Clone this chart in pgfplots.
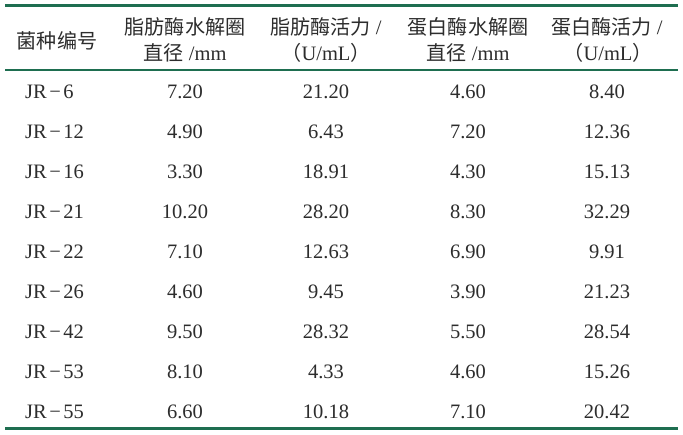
\documentclass[border=0pt]{standalone}
\usepackage{pgfplots}
\pgfplotsset{compat=1.18}
\usepackage{pgfplotstable}
\usepackage{fontspec}
\setmainfont{Liberation Serif}
\newfontfamily\cjk[Scale=0.98]{Noto Sans CJK SC}
\definecolor{rule}{RGB}{30,110,80}
\definecolor{txt}{RGB}{45,45,45}
\newcommand{\md}{\kern2.5pt−\kern2.5pt}
\pgfplotstableread{
y id a b c d
92 JR\md6 7.20 21.20 4.60 8.40
132 JR\md12 4.90 6.43 7.20 12.36
172 JR\md16 3.30 18.91 4.30 15.13
212 JR\md21 10.20 28.20 8.30 32.29
252 JR\md22 7.10 12.63 6.90 9.91
292 JR\md26 4.60 9.45 3.90 21.23
332 JR\md42 9.50 28.32 5.50 28.54
372 JR\md53 8.10 4.33 4.60 15.26
412 JR\md55 6.60 10.18 7.10 20.42
}\datatable
\begin{document}
\begin{tikzpicture}
\begin{axis}[
  scale only axis, width=683pt, height=435pt,
  xmin=0, xmax=683, ymin=0, ymax=435, y dir=reverse,
  hide axis, clip=false,
  axis background/.style={fill=white},
  every node near coord/.append style={anchor=center, text=txt, font=\fontsize{20.5}{24}\selectfont},
]
% rules
\addplot[draw=rule, line width=3pt] coordinates {(5,6) (678,6)};
\addplot[draw=rule, line width=2.2pt] coordinates {(5,70) (678,70)};
\addplot[draw=rule, line width=3pt] coordinates {(5,429) (678,429)};
% data
\addplot[draw=none, mark=none, nodes near coords, point meta=explicit symbolic,
  every node near coord/.append style={anchor=west, inner sep=0pt}]
  table[x expr=25, y=y, meta=id] {\datatable};
\addplot[draw=none, mark=none, nodes near coords, point meta=explicit symbolic]
  table[x expr=185, y=y, meta=a] {\datatable};
\addplot[draw=none, mark=none, nodes near coords, point meta=explicit symbolic]
  table[x expr=326, y=y, meta=b] {\datatable};
\addplot[draw=none, mark=none, nodes near coords, point meta=explicit symbolic]
  table[x expr=468, y=y, meta=c] {\datatable};
\addplot[draw=none, mark=none, nodes near coords, point meta=explicit symbolic]
  table[x expr=607, y=y, meta=d] {\datatable};
% headers
\begin{scope}[every node/.style={text=txt, inner sep=0pt, font=\fontsize{20.5}{24}\selectfont}]
\node at (axis cs:57,41) {\cjk 菌种编号};
\node at (axis cs:185,27) {\cjk 脂肪酶水解圈};
\node at (axis cs:185,53) {{\cjk 直径} /mm};
\node at (axis cs:326,27) {{\cjk 脂肪酶活力} /};
\node at (axis cs:326,53) {{\cjk （}U/mL{\cjk ）}};
\node at (axis cs:468,27) {\cjk 蛋白酶水解圈};
\node at (axis cs:468,53) {{\cjk 直径} /mm};
\node at (axis cs:607,27) {{\cjk 蛋白酶活力} /};
\node at (axis cs:608,53) {{\cjk （}U/mL{\cjk ）}};
\end{scope}
\end{axis}
\end{tikzpicture}
\end{document}
